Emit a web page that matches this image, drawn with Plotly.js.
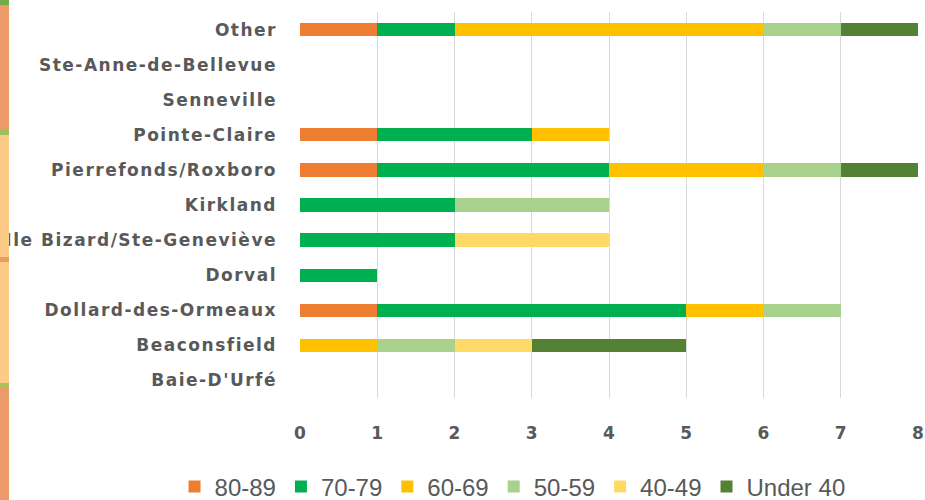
<!DOCTYPE html>
<html><head><meta charset="utf-8">
<script src="https://cdn.plot.ly/plotly-3.0.1.min.js"></script>
<style>
html,body{margin:0;padding:0;background:#fff;}
#chart{width:925px;height:500px;}
#strip{position:absolute;left:0;top:0;width:9px;height:500px;z-index:10;
background:linear-gradient(to bottom,#70AD47 0px,#70AD47 5px,#EB9A6A 5px,#EB9A6A 130px,#9BC060 130px,#9BC060 135px,#FDCB86 135px,#FDCB86 257px,#EB9A6A 257px,#EB9A6A 262px,#FDCB86 262px,#FDCB86 383px,#A9C35A 383px,#A9C35A 388px,#EB9A6A 388px,#EB9A6A 500px);}
#chart .ytick text{letter-spacing:1.5px;}
</style></head>
<body>
<div id="strip"></div>
<div id="chart"></div>
<script>
const categories = ["Baie-D'Urfé","Beaconsfield","Dollard-des-Ormeaux","Dorval","Ile Bizard/Ste-Geneviève","Kirkland","Pierrefonds/Roxboro","Pointe-Claire","Senneville","Ste-Anne-de-Bellevue","Other"];
const seriesNames = ["80-89","70-79","60-69","50-59","40-49","Under 40"];
const v80_89  = [0,0,1,0,0,0,1,1,0,0,1];
const v70_79  = [0,0,4,1,2,2,3,2,0,0,1];
const v60_69  = [0,1,1,0,0,0,2,1,0,0,4];
const v50_59  = [0,1,1,0,0,2,1,0,0,0,1];
const v40_49  = [0,1,0,0,2,0,0,0,0,0,0];
const vUnder40= [0,2,0,0,0,0,1,0,0,0,1];
const xTicks = [0,1,2,3,4,5,6,7,8];

const colors = ["#ED7D31","#00B050","#FFC000","#A9D18E","#FFD966","#548235"];
const allVals = [v80_89,v70_79,v60_69,v50_59,v40_49,vUnder40];
const traces = seriesNames.map((n,i)=>({
  type:'bar', orientation:'h', name:n,
  y:categories, x:allVals[i],
  marker:{color:colors[i], line:{width:0}},
  hoverinfo:'x+y+name'
}));
const lblFont = '"DejaVu Sans", sans-serif';
const layout = {
  width:925, height:500,
  margin:{l:300,r:7,t:12,b:102,autoexpand:false},
  barmode:'stack', bargap:0.62,
  paper_bgcolor:'#fff', plot_bgcolor:'#fff',
  font:{family:lblFont, color:'#595959'},
  xaxis:{range:[0,8], tickvals:xTicks, showgrid:true, gridcolor:'#D9D9D9', gridwidth:1,
    zeroline:false, showline:false, ticks:'', ticklabelstandoff:23,
    tickfont:{size:17, color:'#595959', family:lblFont, weight:'bold'}},
  yaxis:{type:'category', categoryorder:'array', categoryarray:categories, showgrid:false,
    zeroline:false, showline:false, ticks:'', ticklabelstandoff:22,
    tickfont:{size:17, color:'#595959', family:lblFont, weight:'bold'}},
  legend:{orientation:'h', x:-0.203, xanchor:'left', y:-0.23, yanchor:'middle',
    font:{size:24, color:'#595959', family:'"Liberation Sans", Arial, sans-serif'},
    traceorder:'normal'},
  showlegend:true
};
Plotly.newPlot('chart', traces, layout, {displayModeBar:false, staticPlot:true});
</script>
</body></html>
